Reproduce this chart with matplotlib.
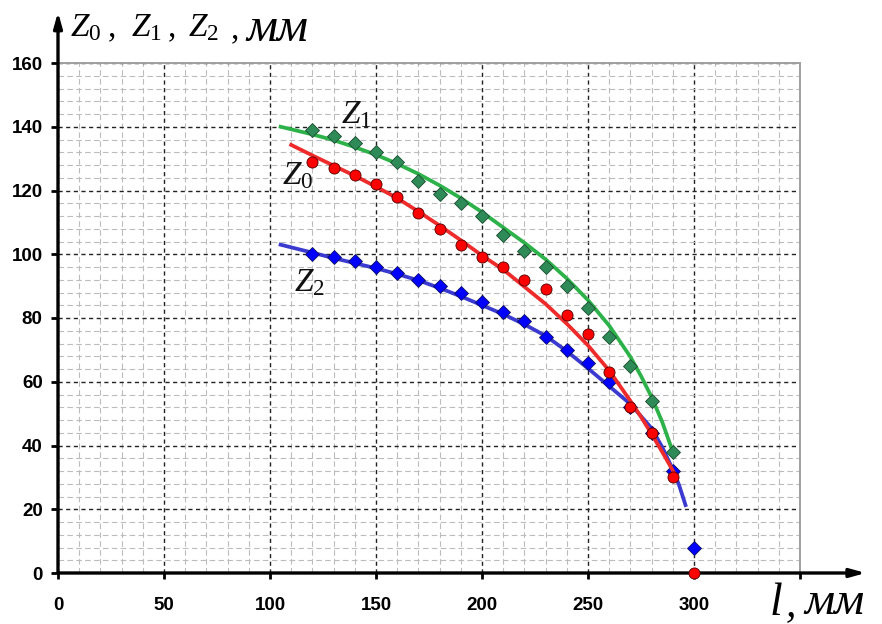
import numpy as np
import matplotlib
matplotlib.use('Agg')
import matplotlib.pyplot as plt
from matplotlib.ticker import MultipleLocator

plt.rcParams['mathtext.fontset'] = 'custom'
plt.rcParams['mathtext.it'] = 'Liberation Serif:italic'
plt.rcParams['mathtext.rm'] = 'Liberation Serif'

# measured points
l_pts = [120, 130, 140, 150, 160, 170, 180, 190, 200, 210, 220, 230, 240, 250, 260, 270, 280, 290]
z1_pts = [139, 137, 135, 132, 129, 123, 119, 116, 112, 106, 101, 96, 90, 83, 74, 65, 54, 38]
z0_pts = [129, 127, 125, 122, 118, 113, 108, 103, 99, 96, 92, 89, 81, 75, 63, 52, 44, 30]
z2_pts = [100, 99, 98, 96, 94, 92, 90, 88, 85, 82, 79, 74, 70, 66, 60, 52, 44, 32]
l_end = [300]
z0_end = [0]
z2_end = [8]

# fitted curves
z1_fit_l = [105, 110, 120, 130, 140, 150, 160, 170, 180, 190, 200, 210, 220, 230, 240, 250,
            260, 270, 275, 280, 285, 290]
z1_fit = [140, 139.2, 137.6, 135.8, 133.6, 131.2, 128.4, 125.2, 121.6, 117.6, 113.2, 108.4,
          103.6, 98.4, 92.4, 85.6, 77.6, 67.8, 61.8, 55.2, 47.4, 38]
z0_fit_l = [110, 120, 130, 140, 150, 160, 170, 180, 190, 200, 210, 220, 230, 240, 250, 260,
            270, 275, 280, 285, 291]
z0_fit = [134.3, 131, 127.8, 124.6, 121.2, 117.6, 113.4, 109, 104.4, 99.6, 95.2, 89.8, 84.4,
          78.2, 71.4, 63.5, 54, 49, 43.6, 38, 31]
z2_fit_l = [105, 120, 130, 140, 150, 160, 170, 180, 190, 200, 210, 220, 230, 240, 250, 260,
            270, 280, 285, 290, 293, 296]
z2_fit = [103, 100.5, 98.8, 97.2, 95.6, 93.8, 91.8, 89.4, 86.8, 84, 81.2, 78, 74.4, 69.6,
          64.2, 58.6, 53, 45.4, 39.5, 32.5, 27.5, 21.3]

x_ticks = [0, 50, 100, 150, 200, 250, 300, 350]
x_labels = ['0', '50', '100', '150', '200', '250', '300', '']
y_ticks = [0, 20, 40, 60, 80, 100, 120, 140, 160]
y_labels = ['0', '20', '40', '60', '80', '100', '120', '140', '160']

fig = plt.figure(figsize=(8.82, 6.24), dpi=100)
W, H = 882, 624
ax = fig.add_axes([58 / W, 1 - 573 / H, (800 - 58) / W, (573 - 63) / H])

ax.set_xlim(0, 350)
ax.set_ylim(0, 160)

ax.xaxis.set_minor_locator(MultipleLocator(10))
ax.yaxis.set_minor_locator(MultipleLocator(4))
ax.grid(which='minor', color='#bcbcbc', linestyle=(0, (5, 3)), linewidth=0.8)
ax.grid(which='major', color='#222222', linestyle=(0, (3, 2.5)), linewidth=1.0)
ax.set_axisbelow(True)

for s in ['top', 'right']:
    ax.spines[s].set_color('#a0a0a0')
    ax.spines[s].set_linewidth(1.4)
for s in ['left', 'bottom']:
    ax.spines[s].set_visible(False)

# thick axes with arrows
ax.annotate('', xy=(0, 176), xytext=(0, 0), annotation_clip=False,
            arrowprops=dict(arrowstyle='-|>,head_length=0.9,head_width=0.25',
                            color='black', lw=2.4, shrinkA=0, shrinkB=0))
ax.annotate('', xy=(381, 0), xytext=(0, 0), annotation_clip=False,
            arrowprops=dict(arrowstyle='-|>,head_length=0.9,head_width=0.25',
                            color='black', lw=2.4, shrinkA=0, shrinkB=0))

tick_font = dict(family='Liberation Sans', weight='bold', size=13.5)
ax.set_xticks(x_ticks)
ax.set_xticklabels(x_labels, fontdict=tick_font)
ax.set_yticks(y_ticks)
ax.set_yticklabels(y_labels, fontdict=tick_font)
ax.tick_params(axis='x', which='major', direction='out', length=4, width=2, pad=13,
               color='black')
ax.tick_params(axis='y', which='major', direction='out', length=5, width=2, pad=6,
               color='black')
ax.tick_params(which='minor', length=0)

# curves
ax.plot(z2_fit_l, z2_fit, color='#3a3ad0', lw=2.7, zorder=3, clip_on=False)
ax.plot(z1_fit_l, z1_fit, color='#2db24a', lw=2.7, zorder=3, clip_on=False)
ax.plot(l_pts, z2_pts, 'D', color='#0000ff', mec='#101060', mew=0.6, ms=7.5, zorder=4)
ax.plot(l_pts, z1_pts, 'D', color='#2e8b57', mec='#1c4a30', mew=0.6, ms=7.5, zorder=4)
ax.plot(z0_fit_l, z0_fit, color='#ee2a2a', lw=2.7, zorder=5, clip_on=False)
ax.plot(l_pts, z0_pts, 'o', color='#ff0000', mec='#500000', mew=0.6, ms=8, zorder=6)
ax.plot(l_end, z2_end, 'D', color='#0000ff', mec='#101060', mew=0.6, ms=7.5, zorder=6, clip_on=False)
ax.plot(l_end, z0_end, 'o', color='#ff0000', mec='#500000', mew=0.6, ms=8, zorder=7, clip_on=False)

# curve labels
lab_kw = dict(fontsize=24, color='#111111', va='baseline', ha='left', zorder=8)
ax.text(133.5, 141, r'$Z_1$', **lab_kw)
ax.text(105.5, 122, r'$Z_0$', **lab_kw)
ax.text(111.5, 88.5, r'$Z_2$', **lab_kw)

# axis titles
def fx(px):
    return px / W

def fy(py):
    return 1 - py / H

top_kw = dict(fontsize=24, va='baseline', ha='left')
fig.text(fx(70), fy(36), r'$Z_0$', **top_kw)
fig.text(fx(108), fy(36), ',', fontsize=24, family='Liberation Serif', va='baseline')
fig.text(fx(131), fy(36), r'$Z_1$', **top_kw)
fig.text(fx(168), fy(36), ',', fontsize=24, family='Liberation Serif', va='baseline')
fig.text(fx(188), fy(36), r'$Z_2$', **top_kw)
fig.text(fx(231), fy(38), ',', fontsize=24, family='Liberation Serif', va='baseline')
fig.text(fx(246), fy(41), 'мм', fontsize=35, family='Liberation Serif', style='italic',
         va='baseline', ha='left')
fig.text(fx(770), fy(615), 'l', fontsize=33, family='Liberation Serif', style='italic',
         va='baseline', ha='left')
fig.text(fx(786), fy(615), ',', fontsize=30, family='Liberation Serif', style='italic',
         va='baseline', ha='left')
fig.text(fx(804), fy(614), 'мм', fontsize=34, family='Liberation Serif', style='italic',
         va='baseline', ha='left')

fig.savefig('out.png', dpi=100)
